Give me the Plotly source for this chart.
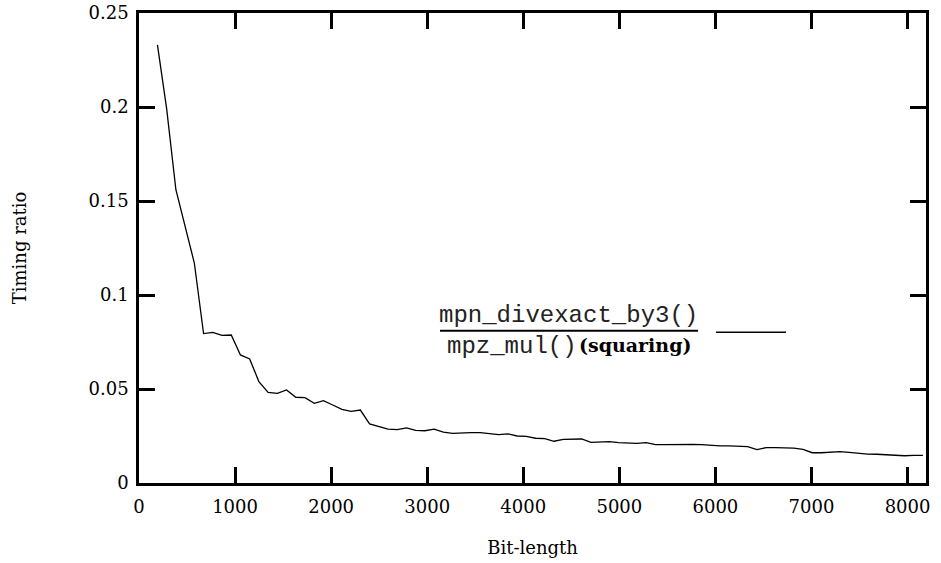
import plotly.graph_objects as go

# Bit-length sample points
bit_length = [192, 288, 384, 480, 576, 672, 768, 864, 960, 1056,
              1152, 1248, 1344, 1440, 1536, 1632, 1728, 1824, 1920, 2016,
              2112, 2208, 2304, 2400, 2496, 2592, 2688, 2784, 2880, 2976,
              3072, 3168, 3264, 3360, 3456, 3552, 3648, 3744, 3840, 3936,
              4032, 4128, 4224, 4320, 4416, 4512, 4608, 4704, 4800, 4896,
              4992, 5088, 5184, 5280, 5376, 5472, 5568, 5664, 5760, 5856,
              5952, 6048, 6144, 6240, 6336, 6432, 6528, 6624, 6720, 6816,
              6912, 7008, 7104, 7200, 7296, 7392, 7488, 7584, 7680, 7776,
              7872, 7968, 8064, 8160]

# Timing ratio mpn_divexact_by3() / mpz_mul() (squaring)
timing_ratio = [0.233, 0.199, 0.156, 0.137, 0.117, 0.0795, 0.0801, 0.0785, 0.0787, 0.0681,
                0.0660, 0.0539, 0.0482, 0.0477, 0.0495, 0.0456, 0.0454, 0.0424, 0.0438, 0.0415,
                0.0392, 0.0381, 0.0388, 0.0314, 0.0300, 0.0287, 0.0284, 0.0293, 0.0280, 0.0278,
                0.0286, 0.0271, 0.0264, 0.0268, 0.0268, 0.0268, 0.0261, 0.0257, 0.0261, 0.0250,
                0.0248, 0.0238, 0.0236, 0.0222, 0.0232, 0.0232, 0.0234, 0.0216, 0.0218, 0.0220,
                0.0215, 0.0213, 0.0211, 0.0215, 0.0204, 0.0204, 0.0205, 0.0206, 0.0205, 0.0204,
                0.0200, 0.0198, 0.0197, 0.0195, 0.0193, 0.0178, 0.0188, 0.0188, 0.0188, 0.0186,
                0.0179, 0.0161, 0.0161, 0.0163, 0.0167, 0.0163, 0.0158, 0.0154, 0.0153, 0.0149,
                0.0147, 0.0145, 0.0147, 0.0147]

x_ticks = [0, 1000, 2000, 3000, 4000, 5000, 6000, 7000, 8000]
y_ticks = [0, 0.05, 0.1, 0.15, 0.2, 0.25]
y_tick_text = ["0", "0.05", "0.1", "0.15", "0.2", "0.25"]

SERIF = "DejaVu Serif"
MONO = "Liberation Mono"

fig = go.Figure()
fig.add_trace(go.Scatter(x=bit_length, y=timing_ratio, mode="lines",
                         line=dict(color="black", width=1.3), showlegend=False))

axis_common = dict(showline=True, linecolor="black", linewidth=2.5, mirror="ticks",
                   ticks="inside", ticklen=16, tickwidth=2.5, tickcolor="black",
                   showgrid=False, zeroline=False, automargin=False,
                   tickfont=dict(family=SERIF, size=18, color="black"))

fig.update_xaxes(range=[0, 8192], tickvals=x_ticks, tickformat="d",
                 ticklabelstandoff=6,
                 title=dict(text="Bit-length", font=dict(family=SERIF, size=18, color="black"),
                            standoff=26),
                 **axis_common)
fig.update_yaxes(range=[0, 0.25], tickvals=y_ticks, ticktext=y_tick_text,
                 ticklabelstandoff=4,
                 title=dict(text="Timing ratio", font=dict(family=SERIF, size=18, color="black"),
                            standoff=58),
                 **axis_common)

# key: fraction label and line sample
BAR_Y = 0.324
fig.add_annotation(xref="paper", yref="paper", x=0.5457, y=BAR_Y + 0.002, text="mpn_divexact_by3()",
                   showarrow=False, xanchor="center", yanchor="bottom", borderpad=0,
                   font=dict(family=MONO, size=24, color="#222"))
fig.add_shape(type="line", xref="paper", yref="paper", x0=0.3825, x1=0.7103, y0=BAR_Y, y1=BAR_Y,
              line=dict(color="black", width=2))
fig.add_annotation(xref="paper", yref="paper", x=0.5578, y=BAR_Y - 0.002, text="mpz_mul()",
                   showarrow=False, xanchor="right", yanchor="top", borderpad=0,
                   font=dict(family=MONO, size=24, color="#222"))
fig.add_annotation(xref="paper", yref="paper", x=0.5575, y=BAR_Y - 0.004, text="<b>(squaring)</b>",
                   showarrow=False, xanchor="left", yanchor="top", borderpad=0,
                   font=dict(family=SERIF, size=19, color="black"))
fig.add_shape(type="line", xref="paper", yref="paper", x0=0.7332, x1=0.8221, y0=0.3206, y1=0.3206,
              line=dict(color="black", width=1.5))

fig.update_layout(width=941, height=563, margin=dict(l=139, r=15, t=13, b=80),
                  plot_bgcolor="white", paper_bgcolor="white")

fig.write_html("out.html", config={"displayModeBar": False},
               post_script="document.body.style.margin='0';document.body.style.overflow='hidden';")
